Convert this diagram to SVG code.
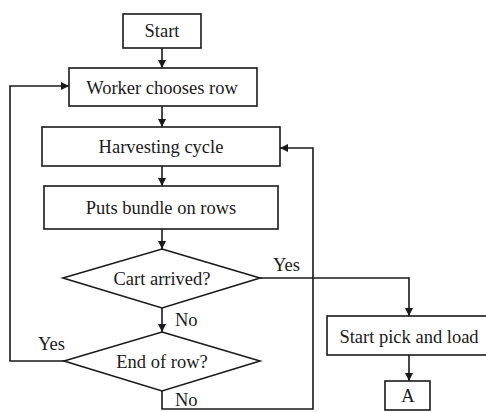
<svg xmlns="http://www.w3.org/2000/svg" width="486" height="412" viewBox="0 0 486 412">
<style>
.b{fill:#fff;stroke:#1a1a1a;stroke-width:1.6}
.c{fill:none;stroke:#1a1a1a;stroke-width:1.6}
.t{font-family:'Liberation Serif','DejaVu Serif',serif;font-size:18.5px;fill:#1a1a1a}
.m{text-anchor:middle}
</style>
<defs>
<marker id="ah" viewBox="0 0 10 10" refX="10" refY="5" markerWidth="8" markerHeight="8" markerUnits="userSpaceOnUse" orient="auto">
<path d="M0,0L10,5L0,10z" fill="#1a1a1a"/>
</marker>
</defs>
<rect width="486" height="412" fill="#fff"/>
<g id="connectors">
<path class="c" d="M162,48V68" marker-end="url(#ah)"/>
<path class="c" d="M162,106V127" marker-end="url(#ah)"/>
<path class="c" d="M162,166V186" marker-end="url(#ah)"/>
<path class="c" d="M162,229V249" marker-end="url(#ah)"/>
<path class="c" d="M162,308V332" marker-end="url(#ah)"/>
<path class="c" d="M64,361H10V86H69" marker-end="url(#ah)"/>
<path class="c" d="M162,391V409H313V148H280" marker-end="url(#ah)"/>
<path class="c" d="M260,278H409V316" marker-end="url(#ah)"/>
<path class="c" d="M409,355V381" marker-end="url(#ah)"/>
<text class="t" font-family="Liberation Serif" x="273" y="271">Yes</text>
<text class="t" font-family="Liberation Serif" x="175" y="326">No</text>
<text class="t" font-family="Liberation Serif" x="38" y="350">Yes</text>
<text class="t" font-family="Liberation Serif" x="175" y="406">No</text>
</g>
<g id="start"><rect class="b" x="123" y="14" width="78" height="34"/><text class="t m" font-family="Liberation Serif" x="162" y="37">Start</text></g>
<g id="worker"><rect class="b" x="69" y="68" width="188" height="38"/><text class="t m" font-family="Liberation Serif" x="162" y="94">Worker chooses row</text></g>
<g id="harvest"><rect class="b" x="42" y="127" width="238" height="39"/><text class="t m" font-family="Liberation Serif" x="161" y="153">Harvesting cycle</text></g>
<g id="puts"><rect class="b" x="44" y="186" width="234" height="43"/><text class="t m" font-family="Liberation Serif" x="161" y="214">Puts bundle on rows</text></g>
<g id="cart"><path class="b" d="M162,249L260,278L162,308L63,278z"/><text class="t m" font-family="Liberation Serif" x="162" y="285">Cart arrived?</text></g>
<g id="endrow"><path class="b" d="M162,332L260,361L162,391L64,361z"/><text class="t m" font-family="Liberation Serif" x="162" y="368">End of row?</text></g>
<g id="pick"><rect class="b" x="327" y="316" width="165" height="39"/><text class="t m" font-family="Liberation Serif" x="409" y="343">Start pick and load</text></g>
<g id="a"><rect class="b" x="385" y="381" width="45" height="29"/><text class="t m" font-family="Liberation Serif" x="408" y="402">A</text></g>
</svg>
